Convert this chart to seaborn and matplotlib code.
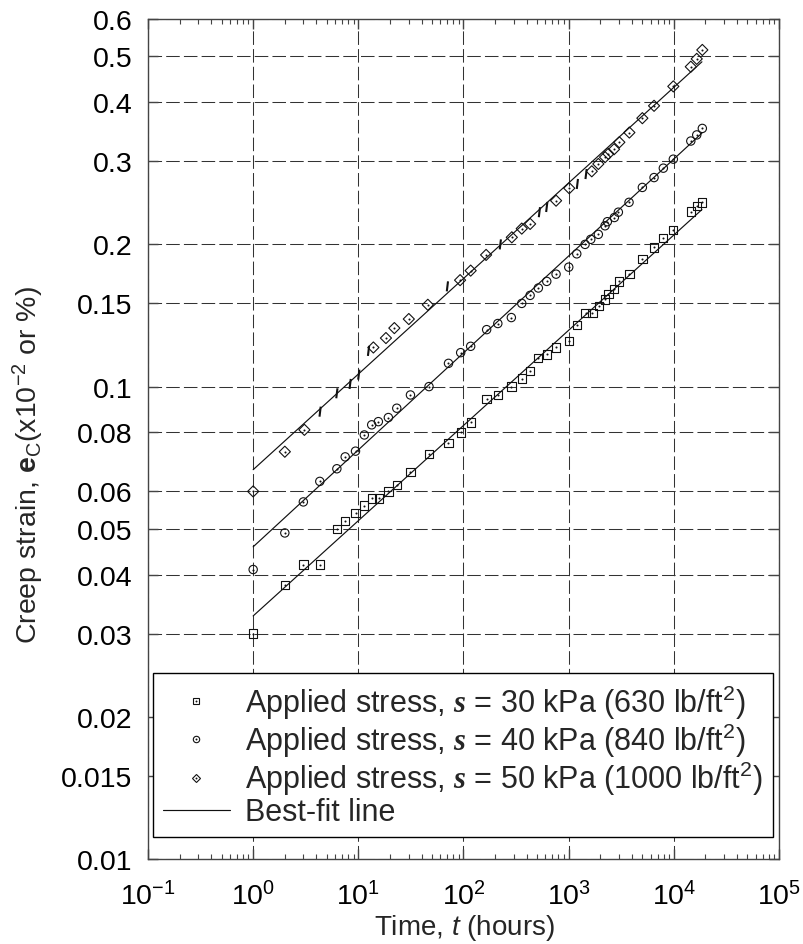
import numpy as np
import pandas as pd
import matplotlib
matplotlib.use("Agg")
import matplotlib.pyplot as plt
import seaborn as sns
from matplotlib.lines import Line2D
from matplotlib.legend_handler import HandlerTuple
from matplotlib.ticker import FixedLocator, FixedFormatter, LogLocator, NullLocator, NullFormatter

# ---- creep test readings: time (hours) and creep strain (x10^-2 or %) ----
t_30 = [1, 2, 3, 4.3, 6.25, 7.5, 9.4, 11.4, 13.4, 15.8, 19.3, 23.2, 31.3, 47, 72, 94,
        117, 166, 212, 285, 358, 430, 510, 619, 759, 1005, 1194, 1450, 1680, 1930,
        2220, 2385, 2680, 3030, 3777, 5020, 6442, 7946, 9890, 14500, 16700, 18660]
e_30 = [0.030, 0.038, 0.042, 0.042, 0.050, 0.052, 0.054, 0.056, 0.058, 0.058, 0.060,
        0.062, 0.066, 0.072, 0.076, 0.080, 0.084, 0.094, 0.096, 0.100, 0.104, 0.108,
        0.115, 0.117, 0.121, 0.125, 0.135, 0.143, 0.143, 0.148, 0.153, 0.157, 0.161,
        0.167, 0.173, 0.1865, 0.197, 0.206, 0.2146, 0.2346, 0.241, 0.2455]

t_40 = [1, 2, 3, 4.3, 6.25, 7.5, 9.4, 11.4, 13.4, 15.5, 19.3, 23.2, 31.3, 47, 72, 94,
        117, 166, 212, 285, 358, 430, 515, 619, 759, 1002, 1194, 1432, 1622, 1915,
        2218, 2333, 2720, 2968, 3750, 5020, 6484, 7946, 9890, 14500, 16510, 18660]
e_40 = [0.041, 0.049, 0.057, 0.063, 0.067, 0.071, 0.073, 0.079, 0.083, 0.0843, 0.086,
        0.090, 0.096, 0.100, 0.112, 0.118, 0.1217, 0.132, 0.136, 0.140, 0.150, 0.156,
        0.1617, 0.167, 0.173, 0.179, 0.191, 0.200, 0.205, 0.210, 0.219, 0.2234, 0.228,
        0.234, 0.2455, 0.264, 0.277, 0.290, 0.303, 0.331, 0.341, 0.352]

t_50 = [1, 2, 3.07, 13.9, 18.3, 22.0, 30.2, 45.8, 92.8, 117, 164, 288, 358, 430, 759,
        1013, 1658, 1915, 2218, 2385, 2702, 3033, 3777, 5020, 6484, 9890, 14500, 16510,
        18660]
e_50 = [0.060, 0.0728, 0.081, 0.121, 0.1267, 0.133, 0.139, 0.149, 0.168, 0.176, 0.190,
        0.207, 0.216, 0.221, 0.2475, 0.263, 0.2856, 0.296, 0.306, 0.311, 0.318, 0.329,
        0.345, 0.370, 0.393, 0.432, 0.4755, 0.494, 0.516]

# 50 kPa readings plotted as short strokes
t_50_stroke = [4.33, 6.25, 8.36, 10.1, 12.5, 70.3, 224, 527, 619, 1210, 1464]
e_50_stroke = [0.0885, 0.0968, 0.1013, 0.106, 0.119, 0.163, 0.200, 0.234, 0.240, 0.2685, 0.2818]

# best-fit lines (end points, straight on log-log axes)
fit_t = [1, 18500]
fit_30 = [0.0327, 0.237]
fit_40 = [0.0458, 0.344]
fit_50 = [0.0667, 0.487]

series_labels = [
    r"Applied stress, $\mathcal{s}$ = 30 kPa (630 lb/ft$^{\mathregular{2}}$)",
    r"Applied stress, $\mathcal{s}$ = 40 kPa (840 lb/ft$^{\mathregular{2}}$)",
    r"Applied stress, $\mathcal{s}$ = 50 kPa (1000 lb/ft$^{\mathregular{2}}$)",
]
fit_label = "Best-fit line"

x_ticks = [1e-1, 1e0, 1e1, 1e2, 1e3, 1e4, 1e5]
x_tick_labels = [r"10$^{\mathregular{-1}}$", r"10$^{\mathregular{0}}$", r"10$^{\mathregular{1}}$",
                 r"10$^{\mathregular{2}}$", r"10$^{\mathregular{3}}$", r"10$^{\mathregular{4}}$",
                 r"10$^{\mathregular{5}}$"]
y_ticks = [0.01, 0.015, 0.02, 0.03, 0.04, 0.05, 0.06, 0.08, 0.1, 0.15, 0.2, 0.3, 0.4, 0.5, 0.6]
y_tick_labels = ["0.01", "0.015", "0.02", "0.03", "0.04", "0.05", "0.06", "0.08", "0.1",
                 "0.15", "0.2", "0.3", "0.4", "0.5", "0.6"]

# ---- style ----
sns.set_theme(style="ticks")
FS = 20.5
FS_XLAB = 20
FS_LEG = 22
plt.rcParams.update({
    "font.family": ["Liberation Sans", "DejaVu Sans"],
    "mathtext.fontset": "custom",
    "mathtext.rm": "Liberation Sans",
    "mathtext.it": "Liberation Sans:italic",
    "mathtext.bf": "Liberation Sans:bold",
    "mathtext.cal": "Liberation Serif:bold:italic",
    "axes.edgecolor": "#444444",
    "axes.linewidth": 1.0,
    "xtick.color": "#444444",
    "ytick.color": "#444444",
    "xtick.labelcolor": "black",
    "ytick.labelcolor": "black",
})

fig = plt.figure(figsize=(8.04, 9.45), dpi=100)
fig.subplots_adjust(left=148 / 804, right=779 / 804, top=1 - 20 / 945, bottom=1 - 860 / 945)
ax = fig.add_subplot(111)
ax.set_xscale("log")
ax.set_yscale("log")

ink = "#111111"
marker_kw = dict(facecolor="none", edgecolor=ink, linewidth=0.8, legend=False, zorder=4)
dot_kw = dict(marker="o", s=2.2, color=ink, linewidth=0, legend=False, zorder=5)

frames = {
    "30": (t_30, e_30, "s", 36),
    "40": (t_40, e_40, "o", 36),
    "50": (t_50, e_50, "D", 32),
}
for key, (tt, ee, mk, size) in frames.items():
    df = pd.DataFrame({"t": tt, "strain": ee})
    sns.scatterplot(data=df, x="t", y="strain", marker=mk, s=size, ax=ax, **marker_kw)
    sns.scatterplot(data=df, x="t", y="strain", ax=ax, **dot_kw)

df_stroke = pd.DataFrame({"t": t_50_stroke, "strain": e_50_stroke})
sns.scatterplot(data=df_stroke, x="t", y="strain", marker=[(-0.12, -1), (0.12, 1)], s=52,
                facecolor="none", edgecolor=ink, linewidth=1.5, legend=False, zorder=4, ax=ax)

for vals in (fit_30, fit_40, fit_50):
    dfl = pd.DataFrame({"t": fit_t, "strain": vals})
    sns.lineplot(data=dfl, x="t", y="strain", color=ink, linewidth=0.85, ax=ax, zorder=3)

# ---- axes ----
ax.set_xlim(1e-1, 1e5)
ax.set_ylim(0.01, 0.6)
ax.xaxis.set_major_locator(FixedLocator(x_ticks))
ax.xaxis.set_major_formatter(FixedFormatter(x_tick_labels))
ax.xaxis.set_minor_locator(LogLocator(base=10, subs=np.arange(2, 10), numticks=20))
ax.xaxis.set_minor_formatter(NullFormatter())
ax.yaxis.set_major_locator(FixedLocator(y_ticks))
ax.yaxis.set_major_formatter(FixedFormatter(y_tick_labels))
ax.yaxis.set_minor_locator(NullLocator())

ax.tick_params(which="both", direction="in", top=True, right=True)
ax.tick_params(which="major", length=7, width=1.0, labelsize=FS)
ax.tick_params(which="minor", length=3.5, width=0.8)
ax.tick_params(axis="y", which="major", pad=11)
ax.tick_params(axis="x", which="major", pad=16)

ax.grid(True, which="major", color="#333333", linewidth=0.75, linestyle=(0, (13, 4)))
ax.set_axisbelow(True)

ax.set_xlabel(r"Time, $t$ (hours)", fontsize=FS_XLAB)
ax.set_ylabel(r"Creep strain, $\mathbf{e}_{\mathregular{C}}$(x10$^{\mathregular{-2}}$ or %)", fontsize=FS)
ax.xaxis.set_label_coords(0.502, -0.063)
ax.yaxis.set_label_coords(-0.162, 0.470)

# ---- legend ----
def marker_handle(mk, ms):
    outline = Line2D([], [], ls="none", marker=mk, ms=ms, mfc="none", mec=ink, mew=0.8)
    dot = Line2D([], [], ls="none", marker="o", ms=1.4, mfc=ink, mec=ink, mew=0)
    return (outline, dot)

handles = [marker_handle("s", 4.6), marker_handle("o", 4.6), marker_handle("D", 3.8),
           Line2D([], [], color=ink, lw=0.85)]
labels = series_labels + [fit_label]
leg = ax.legend(handles, labels, handler_map={tuple: HandlerTuple(ndivide=1)},
                loc="lower left", bbox_to_anchor=(0.008, 0.026, 0.982, 0.197), mode="expand",
                frameon=True, fancybox=False, framealpha=1, edgecolor="black", fontsize=FS_LEG,
                handlelength=2.2, handletextpad=0.48, borderpad=0.32, labelspacing=0.0,
                borderaxespad=0, numpoints=1)
leg.get_frame().set_linewidth(1.0)
leg.set_zorder(10)

fig.savefig("out.png", dpi=100)
